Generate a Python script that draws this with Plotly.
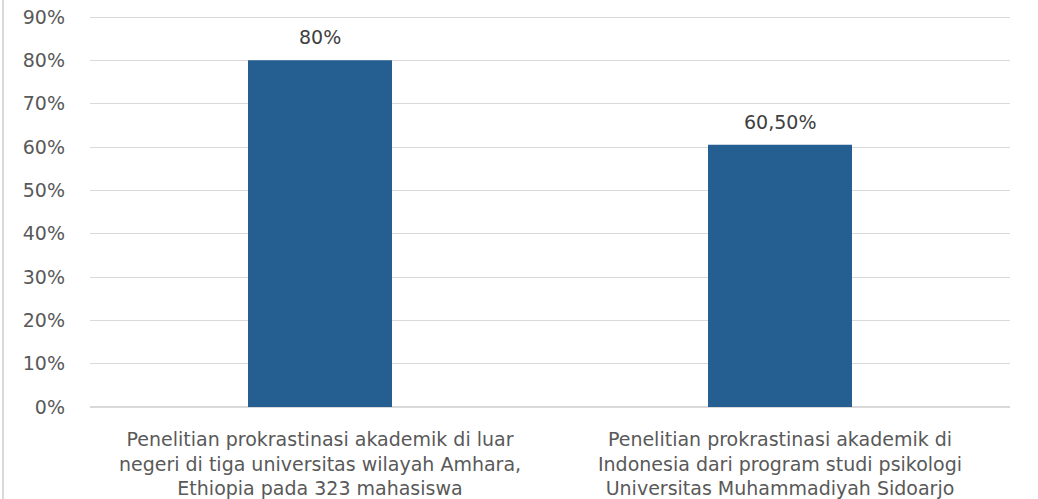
import plotly.graph_objects as go

categories = [
    "Penelitian prokrastinasi akademik di luar<br>negeri di tiga universitas wilayah Amhara,<br>Ethiopia pada 323 mahasiswa",
    "Penelitian prokrastinasi akademik di<br>Indonesia dari program studi psikologi<br>Universitas Muhammadiyah Sidoarjo",
]
values = [80, 60.5]
value_labels = ["80%", "60,50%"]
tick_vals = [0, 10, 20, 30, 40, 50, 60, 70, 80, 90]
tick_text = ["0%", "10%", "20%", "30%", "40%", "50%", "60%", "70%", "80%", "90%"]

FONT = "DejaVu Sans"
GREY = "#595959"
FS = 19

fig = go.Figure()
fig.add_trace(go.Bar(
    x=categories, y=values, marker=dict(color="#255E91", line=dict(width=0)),
    hoverinfo="skip",
))

for c, v, t in zip(categories, values, value_labels):
    fig.add_annotation(x=c, y=v, text=t, showarrow=False, yanchor="middle", yshift=23,
                       font=dict(family=FONT, size=FS, color="#404040"))

fig.add_shape(type="line", xref="paper", yref="paper", x0=-0.0946, x1=-0.0946, y0=-0.3, y1=1.1,
              line=dict(color="#d9d9d9", width=2))

fig.update_layout(
    width=1038, height=499,
    margin=dict(l=90, r=28, t=14, b=92, autoexpand=False),
    paper_bgcolor="white", plot_bgcolor="white",
    bargap=0.687,
    showlegend=False,
    font=dict(family=FONT, size=FS, color=GREY),
    xaxis=dict(showgrid=False, showline=False, ticks="", automargin=False,
               ticklabelstandoff=19, ticklabeloverflow="allow",
               tickfont=dict(family=FONT, size=FS, color=GREY)),
    yaxis=dict(range=[0, 90.7], tickvals=tick_vals, ticktext=tick_text, showgrid=True,
               gridcolor="#d9d9d9", gridwidth=1, zeroline=True, zerolinecolor="#d9d9d9",
               showline=False, ticks="", ticklabelstandoff=24, automargin=False,
               ticklabeloverflow="allow",
               tickfont=dict(family=FONT, size=FS, color=GREY)),
)

fig.write_html("out.html", config={"displayModeBar": False},
               post_script="document.body.style.margin='0';")
